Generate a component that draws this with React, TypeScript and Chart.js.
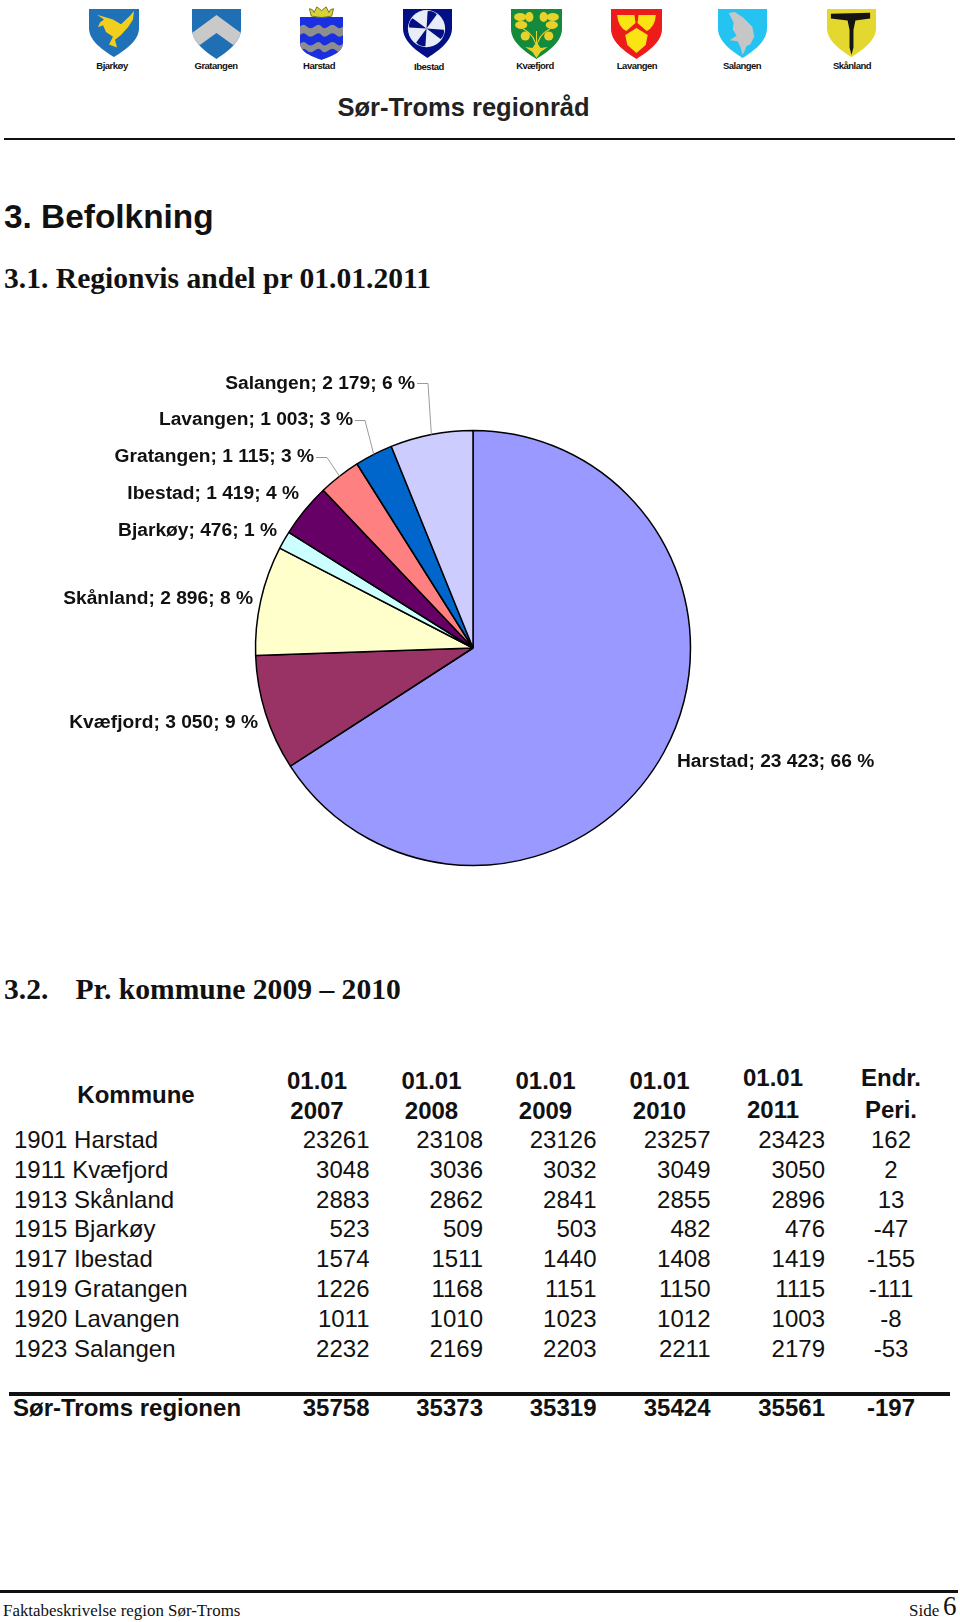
import React, { useEffect, useRef } from "react";
import { Chart, registerables } from "chart.js";

Chart.register(...registerables);

// ---------- data ----------
const pieNames = ["Harstad", "Kvæfjord", "Skånland", "Bjarkøy", "Ibestad", "Gratangen", "Lavangen", "Salangen"];
const pieValues = [23423, 3050, 2896, 476, 1419, 1115, 1003, 2179];
const pieColors = ["#9999FF", "#993366", "#FFFFCC", "#CCFFFF", "#660066", "#FF8080", "#0066CC", "#CCCCFF"];

const rowLabels = ["1901 Harstad", "1911 Kvæfjord", "1913 Skånland", "1915 Bjarkøy", "1917 Ibestad", "1919 Gratangen", "1920 Lavangen", "1923 Salangen"];
const pop2007 = [23261, 3048, 2883, 523, 1574, 1226, 1011, 2232];
const pop2008 = [23108, 3036, 2862, 509, 1511, 1168, 1010, 2169];
const pop2009 = [23126, 3032, 2841, 503, 1440, 1151, 1023, 2203];
const pop2010 = [23257, 3049, 2855, 482, 1408, 1150, 1012, 2211];
const pop2011 = [23423, 3050, 2896, 476, 1419, 1115, 1003, 2179];
const change = [162, 2, 13, -47, -155, -111, -8, -53];
const totals = [35758, 35373, 35319, 35424, 35561, -197];
const headTop = ["01.01", "01.01", "01.01", "01.01", "01.01", "Endr."];
const headBottom = ["2007", "2008", "2009", "2010", "2011", "Peri."];
const crestNames = ["Bjarkøy", "Gratangen", "Harstad", "Ibestad", "Kvæfjord", "Lavangen", "Salangen", "Skånland"];

// ---------- layout (not data) ----------
const CX = 473;
const CY = 648;
const R = 217.5;
const CANVAS_TOP = 360;
const labelPos: Record<string, { x: number; y: number; left?: boolean; elbow?: [number, number] }> = {
  Harstad: { x: 677, y: 762, left: true },
  Kvæfjord: { x: 258, y: 723 },
  Skånland: { x: 253, y: 598.5 },
  Bjarkøy: { x: 277, y: 531 },
  Ibestad: { x: 299, y: 494 },
  Gratangen: { x: 314, y: 457, elbow: [327, 457] },
  Lavangen: { x: 353, y: 420, elbow: [365, 420] },
  Salangen: { x: 415, y: 383.5, elbow: [428, 383] },
};
const colRight = [369.5, 483, 596.5, 710.5, 825];
const rowY = [1140, 1170, 1200, 1229, 1259, 1289, 1319, 1349];
const headCx = [317, 431.5, 545.5, 659.5, 773, 891];
const headTopY = [1081, 1081, 1081, 1081, 1078, 1078];
const headBotY = [1111, 1111, 1111, 1111, 1110, 1110];

const SANS = '"Liberation Sans", Arial, sans-serif';
const SERIF = '"Liberation Serif", "Times New Roman", serif';

const spaced = (n: number) => String(n).replace(/\B(?=(\d{3})+$)/g, " ");

const pieLabels = {
  id: "pieLabels",
  afterDatasetsDraw(chart: any) {
    const { ctx } = chart;
    const meta = chart.getDatasetMeta(0);
    const total = pieValues.reduce((a, b) => a + b, 0);
    ctx.save();
    ctx.font = `bold 19.2px ${SANS}`;
    ctx.fillStyle = "#111";
    ctx.textBaseline = "middle";
    pieNames.forEach((name, i) => {
      const pos = labelPos[name];
      const text = `${name}; ${spaced(pieValues[i])}; ${Math.round((pieValues[i] / total) * 100)} %`;
      ctx.textAlign = pos.left ? "left" : "right";
      ctx.fillText(text, pos.x, pos.y - CANVAS_TOP);
      if (pos.elbow) {
        const arc = meta.data[i];
        const mid = (arc.startAngle + arc.endAngle) / 2;
        ctx.strokeStyle = "#9a9a9a";
        ctx.lineWidth = 1;
        ctx.beginPath();
        ctx.moveTo(pos.x + 2, pos.elbow[1] - CANVAS_TOP + 0.5);
        ctx.lineTo(pos.elbow[0], pos.elbow[1] - CANVAS_TOP + 0.5);
        ctx.lineTo(arc.x + Math.cos(mid) * arc.outerRadius, arc.y + Math.sin(mid) * arc.outerRadius);
        ctx.stroke();
      }
    });
    ctx.restore();
  },
};

function T(props: { x: number; y: number; align?: "l" | "c" | "r"; font?: string; size: number; bold?: boolean; color?: string; ls?: number; children: React.ReactNode }) {
  const { x, y, align = "l", font = SANS, size, bold, color = "#111", ls, children } = props;
  const tx = align === "l" ? "0" : align === "c" ? "-50%" : "-100%";
  return (
    <span
      style={{
        position: "absolute",
        left: x,
        top: y,
        transform: `translate(${tx}, -50%)`,
        fontFamily: font,
        fontSize: size,
        fontWeight: bold ? 700 : 400,
        color,
        whiteSpace: "pre",
        lineHeight: 1.15,
        letterSpacing: ls,
      }}
    >
      {children}
    </span>
  );
}

const SHIELD = "M0,0H50V20C50,34 34,44 25,50C16,44 0,34 0,20Z";
const SQUARE_SHIELD = "M0,0H50V30C50,42 35,46 25,50C15,46 0,42 0,30Z";

function Crest({ id, x, y, w, h, children, base, shape = SHIELD }: { id: string; x: number; y: number; w: number; h: number; base: string; shape?: string; children?: React.ReactNode }) {
  return (
    <svg viewBox="0 0 50 50" preserveAspectRatio="none" style={{ position: "absolute", left: x, top: y, width: w, height: h }}>
      <clipPath id={id}>
        <path d={shape} />
      </clipPath>
      <g clipPath={`url(#${id})`}>
        <rect width="50" height="50" fill={base} />
        {children}
      </g>
    </svg>
  );
}

function Crests() {
  return (
    <>
      <Crest id="c1" x={89} y={9} w={50} h={48} base="#1f71b8">
        <path d="M8,6 L24,11 L32,16 L41,7 L45,2 L44,11 L39,19 L32,27 L26,32 L28,40 L20,37 L24,29 L17,24 L14,17 L9,19 L11,14 L15,11 Z" fill="#f3cf1d" />
      </Crest>
      <Crest id="c2" x={192} y={9} w={49} h={50} base="#1f6fb5">
        <path d="M25,6 L50,24 V30 L42,36 L25,24 L8,36 L0,30 V24 Z" fill="#c9c9c9" />
      </Crest>
      <Crest id="c3" x={300} y={17} w={43} h={43} base="#1a2fe0" shape={SQUARE_SHIELD}>
        <path d="M0,11 Q4,7 8,11 T17,11 T25,11 T33,11 T42,11 T50,11 V21 Q46,25 42,21 T33,21 T25,21 T17,21 T8,21 T0,21Z" fill="#8e8e8e" />
        <path d="M0,31 Q4,27 8,31 T17,31 T25,31 T33,31 T42,31 T50,31 V39 Q46,43 42,39 T33,39 T25,39 T17,39 T8,39 T0,39Z" fill="#8e8e8e" />
      </Crest>
      <svg viewBox="0 0 30 14" style={{ position: "absolute", left: 306, top: 5, width: 31, height: 13 }}>
        <path d="M2,4 Q6,4 7,8 L10,2 L15,6 L20,2 L23,8 Q24,4 28,4 L26,12 Q15,15 4,12 Z" fill="#d9d235" stroke="#55541a" strokeWidth="0.8" />
      </svg>
      <Crest id="c4" x={403} y={9} w={49} h={49} base="#030f85">
        <circle cx="24" cy="20" r="19" fill="#e8ecf6" />
        <g fill="#030f85" transform="rotate(20 24 20)">
          <path d="M24,20 L19,3 Q24,0 29,3 Z" />
          <path d="M24,20 L19,37 Q24,40 29,37 Z" />
          <path d="M24,20 L7,15 Q4,20 7,25 Z" />
          <path d="M24,20 L41,15 Q44,20 41,25 Z" />
        </g>
      </Crest>
      <Crest id="c5" x={511} y={9} w={51} h={50} base="#138a3c">
        <path d="M25,40 Q24,26 12,20 M25,40 Q26,26 38,20 M25,40 V22" fill="none" stroke="#e9d12c" strokeWidth="1" />
        <g fill="#e9d12c">
          <ellipse cx="9" cy="8" rx="6" ry="4" />
          <ellipse cx="18" cy="8" rx="4" ry="5" />
          <ellipse cx="10" cy="16" rx="6" ry="4" />
          <ellipse cx="41" cy="8" rx="6" ry="4" />
          <ellipse cx="32" cy="8" rx="4" ry="5" />
          <ellipse cx="40" cy="16" rx="6" ry="4" />
          <circle cx="14" cy="27" r="4.5" />
          <circle cx="37" cy="27" r="4.5" />
          <path d="M25,33 L29,39 L36,38 L29,43 L25,49 L21,43 L14,38 L21,39 Z" />
        </g>
      </Crest>
      <Crest id="c6" x={611} y={9} w={51} h={50} base="#ee1b1b">
        <g fill="#fbe414">
          <path d="M6,6 L23,6 L24,14 L15,22 Q7,18 6,6Z" />
          <path d="M44,6 L27,6 L26,14 L35,22 Q43,18 44,6Z" />
          <path d="M25,19 L36,26 L34,36 L25,44 L16,36 L14,26Z" />
        </g>
      </Crest>
      <Crest id="c7" x={718} y={9} w={49} h={49} base="#25c3f1">
        <path d="M11,4 L17,3 L26,9 L35,18 L37,28 L33,36 L29,38 L27,43 L25,47 L23,39 L20,33 L12,32 L19,27 L15,21 L16,14 Z" fill="#c6c6c6" />
      </Crest>
      <Crest id="c8" x={827} y={9} w={49} h={48} base="#e4d72e">
        <path d="M4,5 L44,4 L44,10 L29,12 L27,22 L27,40 L25,48 L23,40 L23,22 L21,12 L4,10 Z" fill="#141414" />
      </Crest>
      {crestNames.map((n, i) => (
        <T key={n} x={[112, 216, 319, 429, 535, 637, 742, 852][i]} y={[66, 66, 66, 67, 66, 66, 66, 66][i]} align="c" size={9.5} bold ls={-0.5}>
          {n}
        </T>
      ))}
    </>
  );
}

export default function App() {
  const ref = useRef<HTMLCanvasElement>(null);
  useEffect(() => {
    const chart = new Chart(ref.current!, {
      type: "pie",
      data: {
        labels: pieNames,
        datasets: [{ data: pieValues, backgroundColor: pieColors, borderColor: "#000", borderWidth: 1.5, radius: R } as any],
      },
      options: {
        animation: false,
        responsive: false,
        maintainAspectRatio: false,
        plugins: { legend: { display: false }, tooltip: { enabled: false }, title: { display: false } },
      },
      plugins: [pieLabels],
    });
    return () => chart.destroy();
  }, []);

  const cols = [pop2007, pop2008, pop2009, pop2010, pop2011];
  const rule = (top: number, left: number, width: number, h: number, c = "#111") => (
    <div style={{ position: "absolute", top, left, width, height: h, background: c }} />
  );

  return (
    <div style={{ position: "absolute", left: 0, top: 0, width: 960, height: 1622, background: "#fff", overflow: "hidden" }}>
      <Crests />
      <T x={463.5} y={107.5} align="c" size={25.5} bold color="#222">Sør-Troms regionråd</T>
      {rule(138, 4, 951, 2)}
      <T x={4} y={217} size={33.4} bold>3. Befolkning</T>
      <T x={4} y={277.5} font={SERIF} size={29.6} bold>3.1. Regionvis andel pr 01.01.2011</T>

      <canvas ref={ref} width={CX * 2} height={(CY - CANVAS_TOP) * 2} style={{ position: "absolute", left: 0, top: CANVAS_TOP, width: CX * 2, height: (CY - CANVAS_TOP) * 2 }} />

      <T x={4} y={989} font={SERIF} size={29.6} bold>3.2.</T>
      <T x={75.5} y={989} font={SERIF} size={29.6} bold>Pr. kommune 2009 – 2010</T>

      <T x={136} y={1095} align="c" size={24} bold>Kommune</T>
      {headTop.map((t, i) => (
        <T key={"a" + i} x={headCx[i]} y={headTopY[i]} align="c" size={24} bold>{t}</T>
      ))}
      {headBottom.map((t, i) => (
        <T key={"b" + i} x={headCx[i]} y={headBotY[i]} align="c" size={24} bold>{t}</T>
      ))}

      {rowLabels.map((label, r) => (
        <React.Fragment key={label}>
          <T x={14} y={rowY[r]} size={24}>{label}</T>
          {cols.map((c, j) => (
            <T key={j} x={colRight[j]} y={rowY[r]} align="r" size={24}>{c[r]}</T>
          ))}
          <T x={891} y={rowY[r]} align="c" size={24}>{change[r]}</T>
        </React.Fragment>
      ))}

      {rule(1392, 9, 941, 4)}
      <T x={13} y={1408} size={24} bold>Sør-Troms regionen</T>
      {totals.slice(0, 5).map((v, j) => (
        <T key={j} x={colRight[j]} y={1408} align="r" size={24} bold>{v}</T>
      ))}
      <T x={891} y={1408} align="c" size={24} bold>{totals[5]}</T>

      {rule(1590, 0, 958, 3)}
      <T x={3} y={1611} font={SERIF} size={16.9}>Faktabeskrivelse region Sør-Troms</T>
      <T x={909} y={1611} font={SERIF} size={17}>Side</T>
      <T x={943} y={1607} font={SERIF} size={27}>6</T>
    </div>
  );
}
